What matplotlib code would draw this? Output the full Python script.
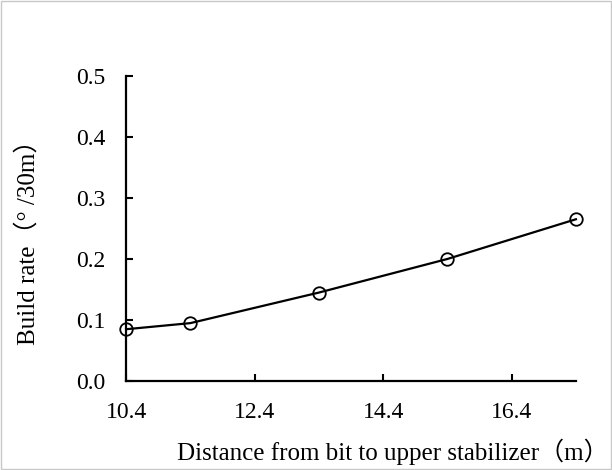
import matplotlib
matplotlib.use("Agg")
import matplotlib.pyplot as plt
from matplotlib.patches import Rectangle

# distance from bit to upper stabilizer (m) vs build rate (deg/30m)
distance = [10.4, 11.4, 13.4, 15.4, 17.4]
build_rate = [0.085, 0.095, 0.145, 0.200, 0.265]
x_ticks = [10.4, 12.4, 14.4, 16.4]
y_ticks = [0.0, 0.1, 0.2, 0.3, 0.4, 0.5]

plt.rcParams["font.family"] = ["Liberation Serif", "Noto Sans CJK SC"]

fig = plt.figure(figsize=(6.12, 4.70), dpi=100)
ax = fig.add_axes([0.206, 0.189, 0.735, 0.650])

ax.plot(distance, build_rate, color="black", linewidth=1.6,
        marker="o", markersize=9, markerfacecolor="none",
        markeredgecolor="black", markeredgewidth=1.3, clip_on=False)

ax.set_xlim(10.4, 17.4)
ax.set_ylim(0, 0.5)
ax.set_xticks(x_ticks)
ax.set_xticklabels([f"{v:.1f}" for v in x_ticks])
ax.set_yticks(y_ticks)
ax.set_yticklabels([f"{v:.1f}" for v in y_ticks])
ax.tick_params(direction="in", length=5, width=1.5, labelsize=17, pad=15)

for side in ["top", "right"]:
    ax.spines[side].set_visible(False)
for side in ["left", "bottom"]:
    ax.spines[side].set_linewidth(1.6)

ax.set_xlabel("Distance from bit to upper stabilizer（m）", fontsize=18, va="center")
ax.xaxis.set_label_coords(0.594, -0.232)
ax.set_ylabel("Build rate（° /30m）", fontsize=18, va="center")
ax.yaxis.set_label_coords(-0.218, 0.475)

# light frame around the whole chart
fig.patches.append(Rectangle((0.002, 0.002), 0.996, 0.996, transform=fig.transFigure,
                             fill=False, edgecolor="#c8c8c8", linewidth=1))

fig.savefig("out.png", dpi=100)
